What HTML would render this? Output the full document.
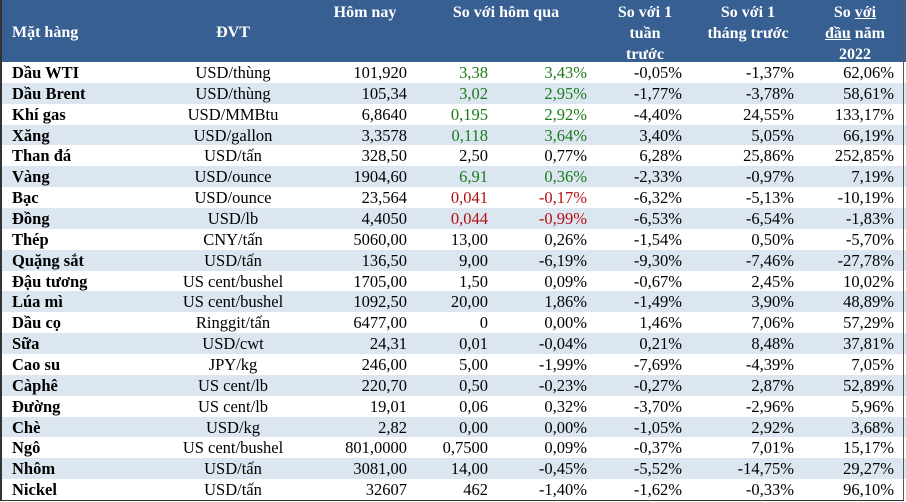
<!DOCTYPE html>
<html><head><meta charset="utf-8"><style>
body{margin:0;width:906px;height:502px;overflow:hidden;background:#fff;font-family:"Liberation Serif",serif;}
#wrap{position:absolute;left:0;top:0;width:904px;height:501px;border-left:2px solid #333;border-bottom:1px solid #333;border-right:1px solid #555;box-sizing:border-box;z-index:5;}
#hdr{position:absolute;left:0;top:0;width:906px;height:62px;background:#375f92;color:#fff;font-weight:bold;font-size:16px;}
.h{position:absolute;text-align:center;line-height:21px;}
.row{position:absolute;left:0;width:906px;height:21px;font-size:16.5px;line-height:21px;}
.row div{position:absolute;top:0;white-space:nowrap;}
.nm{left:12px;font-weight:bold;}
.u{left:133px;width:200px;text-align:center;}
.c{text-align:right;}
.g{color:#1a7a1a}.r{color:#b01010}
</style></head><body>
<div id="wrap"></div>
<div id="hdr">
<div class="h" style="left:12px;top:22px;text-align:left">Mặt hàng</div>
<div class="h" style="left:183px;width:100px;top:22px">ĐVT</div>
<div class="h" style="left:315px;width:100px;top:2px">Hôm nay</div>
<div class="h" style="left:436px;width:140px;top:2px">So với hôm qua</div>
<div class="h" style="left:598px;width:94px;top:2px">So với 1<br>tuần<br>trước</div>
<div class="h" style="left:688px;width:120px;top:2px">So với 1<br>tháng trước</div>
<div class="h" style="left:808px;width:94px;top:2px">So <u>với </u><br><u>đầu</u> năm<br>2022</div>
</div>
<div id="rows"></div>
<script>
const names=["Dầu WTI","Dầu Brent","Khí gas","Xăng","Than đá","Vàng","Bạc","Đồng","Thép","Quặng sắt","Đậu tương","Lúa mì","Dầu cọ","Sữa","Cao su","Càphê","Đường","Chè","Ngô","Nhôm","Nickel"];
const units=["USD/thùng","USD/thùng","USD/MMBtu","USD/gallon","USD/tấn","USD/ounce","USD/ounce","USD/lb","CNY/tấn","USD/tấn","US cent/bushel","US cent/bushel","Ringgit/tấn","USD/cwt","JPY/kg","US cent/lb","US cent/lb","USD/kg","US cent/bushel","USD/tấn","USD/tấn"];
const today=["101,920","105,34","6,8640","3,3578","328,50","1904,60","23,564","4,4050","5060,00","136,50","1705,00","1092,50","6477,00","24,31","246,00","220,70","19,01","2,82","801,0000","3081,00","32607"];
const dChg=["3,38","3,02","0,195","0,118","2,50","6,91","0,041","0,044","13,00","9,00","1,50","20,00","0","0,01","5,00","0,50","0,06","0,00","0,7500","14,00","462"];
const dPct=["3,43%","2,95%","2,92%","3,64%","0,77%","0,36%","-0,17%","-0,99%","0,26%","-6,19%","0,09%","1,86%","0,00%","-0,04%","-1,99%","-0,23%","0,32%","0,00%","0,09%","-0,45%","-1,40%"];
const wPct=["-0,05%","-1,77%","-4,40%","3,40%","6,28%","-2,33%","-6,32%","-6,53%","-1,54%","-9,30%","-0,67%","-1,49%","1,46%","0,21%","-7,69%","-0,27%","-3,70%","-1,05%","-0,37%","-5,52%","-1,62%"];
const mPct=["-1,37%","-3,78%","24,55%","5,05%","25,86%","-0,97%","-5,13%","-6,54%","0,50%","-7,46%","2,45%","3,90%","7,06%","8,48%","-4,39%","2,87%","-2,96%","2,92%","7,01%","-14,75%","-0,33%"];
const yPct=["62,06%","58,61%","133,17%","66,19%","252,85%","7,19%","-10,19%","-1,83%","-5,70%","-27,78%","10,02%","48,89%","57,29%","37,81%","7,05%","52,89%","5,96%","3,68%","15,17%","29,27%","96,10%"];
const tone=["g","g","g","g","","g","r","r","","","","","","","","","","","","",""];
const rows=document.getElementById('rows');
const rowH=20.86;
names.forEach((n,i)=>{
  const r=document.createElement('div');
  r.className='row';
  
  
  r.style.top=(62+i*rowH)+'px';
  r.style.background=i%2?'#dce6f1':'#fff';
  const cells=[["nm",null,n,""],["u",null,units[i],""],["c",407,today[i],""],["c",488,dChg[i],tone[i]],["c",587,dPct[i],tone[i]],["c",682,wPct[i],""],["c",794,mPct[i],""],["c",894,yPct[i],""]];
  cells.forEach((c,j)=>{
    const d=document.createElement('div');
    
    
    d.className=c[0]+(c[3]?' '+c[3]:'');
    if(c[1]!==null){d.style.right=(906-c[1])+'px';}
    d.textContent=c[2];
    r.appendChild(d);
  });
  rows.appendChild(r);
});
</script>
</body></html>
